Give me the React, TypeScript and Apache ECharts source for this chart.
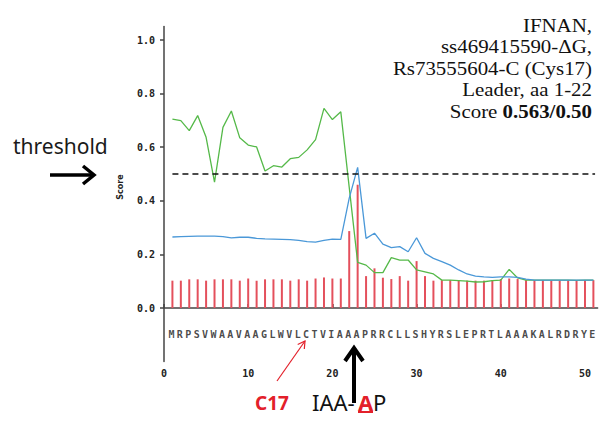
import React, { useEffect, useRef } from "react";
import * as echarts from "echarts";

const sequence = "MRPSVWAAVAAGLWVLCTVIAAAPRRCLLSHYRSLEPRTLAAAKALRDRYE".split("");

const cScore = [
  0.102, 0.102, 0.107, 0.107, 0.102, 0.107, 0.107, 0.107, 0.102, 0.11,
  0.102, 0.107, 0.107, 0.107, 0.102, 0.107, 0.102, 0.11, 0.114, 0.11,
  0.11, 0.287, 0.46, 0.119, 0.148, 0.113, 0.108, 0.119, 0.102, 0.175,
  0.119, 0.102, 0.104, 0.104, 0.102, 0.102, 0.102, 0.102, 0.104, 0.108,
  0.11, 0.108, 0.104, 0.104, 0.104, 0.104, 0.104, 0.104, 0.104, 0.104,
  0.104,
];

const sScore = [
  0.705, 0.699, 0.662, 0.718, 0.637, 0.47, 0.674, 0.735, 0.635, 0.608,
  0.601, 0.511, 0.531, 0.526, 0.557, 0.562, 0.59, 0.628, 0.745, 0.703,
  0.732, 0.45, 0.17, 0.16, 0.132, 0.132, 0.188, 0.179, 0.179, 0.142,
  0.135, 0.127, 0.104, 0.104, 0.102, 0.1, 0.097, 0.098, 0.102, 0.104,
  0.144, 0.112, 0.104, 0.104, 0.104, 0.104, 0.104, 0.104, 0.103, 0.104,
  0.104,
];

const yScore = [
  0.265, 0.266, 0.267, 0.268, 0.268, 0.268, 0.266, 0.262, 0.264, 0.264,
  0.26, 0.258, 0.257, 0.256, 0.255, 0.252, 0.248, 0.246, 0.252, 0.257,
  0.256, 0.41, 0.525, 0.26, 0.279, 0.238, 0.225, 0.229, 0.21, 0.262,
  0.204, 0.185, 0.173, 0.16, 0.142, 0.127, 0.119, 0.116, 0.114, 0.116,
  0.116, 0.114, 0.108, 0.104, 0.104, 0.104, 0.104, 0.104, 0.104, 0.104,
  0.104,
];

const threshold = 0.5;
const sequenceLevel = -0.1;
const xTicks = [0, 10, 20, 30, 40, 50];
const yTicks = [0, 0.2, 0.4, 0.6, 0.8, 1.0];

const titleLines = ["IFNAN,", "ss469415590-\u0394G,", "Rs73555604-C (Cys17)", "Leader, aa 1-22"];
const scoreLabel = "Score ";
const scoreValue = "0.563/0.50";

const RED = "#e3202a";
const SERIF = '"Liberation Serif", "Times New Roman", serif';
const SANS = '"Noto Sans", sans-serif';
const MONO = '"DejaVu Sans Mono", monospace';

export default function App() {
  const ref = useRef<HTMLDivElement>(null);

  useEffect(() => {
    document.body.style.margin = "0";
    const chart = echarts.init(ref.current!, null, { renderer: "svg" });

    const pos = (i: number) => i + 1;
    const isTick = (v: number, list: number[]) => list.some((t) => Math.abs(t - v) < 1e-6);

    const LH = 21.5;
    const titleGraphics: any[] = titleLines.map((t, i) => ({
      type: "text",
      x: 592,
      y: 25 + i * LH,
      scaleX: 1.1,
      style: {
        text: t,
        font: `19px ${SERIF}`,
        fill: "#111",
        align: "right",
        verticalAlign: "middle",
      },
    }));

    const option: any = {
      animation: false,
      backgroundColor: "#ffffff",
      grid: { left: 164, right: 7.4, top: 26.6, bottom: 62.4, containLabel: false },
      xAxis: {
        type: "value",
        min: 0,
        max: 51.5,
        interval: 10,
        splitLine: { show: false },
        axisLine: { lineStyle: { color: "#444", width: 1.5 } },
        axisTick: {
          show: true,
          inside: true,
          length: 4,
          customValues: xTicks,
          lineStyle: { color: "#444", width: 1.5 },
        },
        axisLabel: {
          customValues: xTicks,
          margin: 7,
          fontFamily: MONO,
          fontWeight: "bold",
          fontSize: 10,
          color: "#222",
          formatter: (v: number) => (isTick(v, xTicks) ? String(Math.round(v)) : ""),
        },
      },
      yAxis: {
        type: "value",
        min: -0.2,
        max: 1.05,
        interval: 0.2,
        splitLine: { show: false },
        axisLine: { lineStyle: { color: "#444", width: 1.5 } },
        axisTick: {
          show: true,
          length: 4,
          customValues: yTicks,
          lineStyle: { color: "#444", width: 1.5 },
        },
        axisLabel: {
          customValues: yTicks,
          margin: 9,
          fontFamily: MONO,
          fontWeight: "bold",
          fontSize: 10,
          color: "#222",
          formatter: (v: number) => (isTick(v, yTicks) ? v.toFixed(1) : ""),
        },
      },
      series: [
        {
          name: "C-score",
          type: "bar",
          barWidth: 2,
          itemStyle: { color: "#e4505c" },
          data: cScore.map((v, i) => [pos(i), v]),
          z: 2,
        },
        {
          name: "S-score",
          type: "line",
          symbol: "none",
          lineStyle: { color: "#55b949", width: 1.3 },
          data: sScore.map((v, i) => [pos(i), v]),
          z: 3,
        },
        {
          name: "Y-score",
          type: "line",
          symbol: "none",
          lineStyle: { color: "#4a98d8", width: 1.3 },
          data: yScore.map((v, i) => [pos(i), v]),
          z: 4,
        },
        {
          name: "threshold",
          type: "line",
          symbol: "none",
          lineStyle: { color: "#111", width: 1.6, type: [6, 4] },
          data: [
            [1, threshold],
            [sequence.length + 0.2, threshold],
          ],
          z: 5,
        },
        {
          name: "sequence",
          type: "scatter",
          symbolSize: 1,
          itemStyle: { color: "rgba(0,0,0,0)" },
          silent: true,
          label: {
            show: true,
            position: "inside",
            formatter: (p: any) => p.data[2],
            fontFamily: MONO,
            fontWeight: "bold",
            fontSize: 10,
            color: "#1a1a1a",
          },
          data: sequence.map((ch, i) => [pos(i) - 0.12, sequenceLevel, ch]),
          z: 6,
        },
      ],
      graphic: [
        ...titleGraphics,
        {
          type: "text",
          x: 592,
          y: 25 + 4 * LH,
          scaleX: 1.1,
          style: {
            text: `{r|${scoreLabel}}{b|${scoreValue}}`,
            align: "right",
            verticalAlign: "middle",
            rich: {
              r: { font: `19px ${SERIF}`, fill: "#111" },
              b: { font: `bold 19px ${SERIF}`, fill: "#111" },
            },
          },
        },
        {
          type: "text",
          x: 120,
          y: 187,
          rotation: Math.PI / 2,
          style: {
            text: "Score",
            font: `bold 8px "DejaVu Sans", sans-serif`,
            fill: "#222",
            align: "center",
            verticalAlign: "middle",
          },
        },
        {
          type: "text",
          x: 13,
          y: 146,
          style: {
            text: "threshold",
            font: `21px ${SANS}`,
            fill: "#1a1a1a",
            align: "left",
            verticalAlign: "middle",
          },
        },
        {
          type: "line",
          shape: { x1: 50, y1: 175, x2: 93, y2: 175 },
          style: { stroke: "#000", lineWidth: 3.5 },
        },
        {
          type: "polyline",
          shape: { points: [[83, 166], [94, 175], [83, 184]] },
          style: { stroke: "#000", lineWidth: 3.5, fill: null },
        },
        {
          type: "line",
          shape: { x1: 354, y1: 403, x2: 354, y2: 349 },
          style: { stroke: "#000", lineWidth: 4 },
        },
        {
          type: "polyline",
          shape: { points: [[345, 361], [354, 348], [363, 361]] },
          style: { stroke: "#000", lineWidth: 4, fill: null },
        },
        {
          type: "text",
          x: 312,
          y: 402,
          style: {
            text: "IAA-",
            font: `22px ${SANS}`,
            fill: "#111",
            align: "left",
            verticalAlign: "middle",
          },
        },
        {
          type: "text",
          x: 358,
          y: 402,
          style: {
            text: "A",
            font: `bold 22px ${SANS}`,
            fill: RED,
            align: "left",
            verticalAlign: "middle",
          },
        },
        {
          type: "text",
          x: 373,
          y: 402,
          style: {
            text: "P",
            font: `22px ${SANS}`,
            fill: "#111",
            align: "left",
            verticalAlign: "middle",
          },
        },
        {
          type: "rect",
          shape: { x: 358, y: 411, width: 15, height: 2 },
          style: { fill: RED },
        },
        {
          type: "text",
          x: 272,
          y: 403,
          style: {
            text: "C17",
            font: `bold 19px ${SANS}`,
            fill: RED,
            align: "center",
            verticalAlign: "middle",
          },
        },
        {
          type: "line",
          shape: { x1: 277, y1: 381, x2: 305, y2: 341 },
          style: { stroke: RED, lineWidth: 1.2 },
        },
        {
          type: "polyline",
          shape: { points: [[297.7, 344.5], [305, 341], [304.3, 349]] },
          style: { stroke: RED, lineWidth: 1.2, fill: null },
        },
      ],
    };

    chart.setOption(option);
    return () => chart.dispose();
  }, []);

  return <div ref={ref} style={{ width: 605, height: 424 }} />;
}
